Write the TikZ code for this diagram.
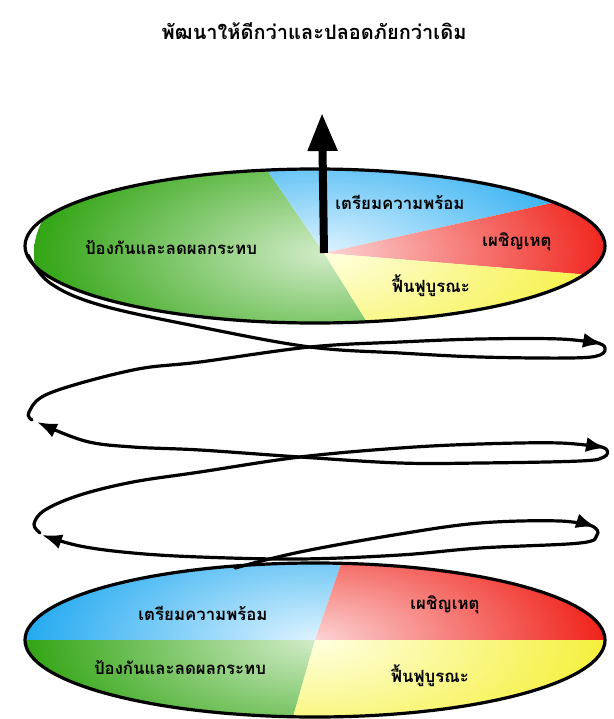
\documentclass[tikz,border=0pt]{standalone}
\usepackage{fontspec}
\usetikzlibrary{arrows.meta}
\newfontfamily\thaifont[Script=Thai]{Loma}
\definecolor{sgreen}{RGB}{50,165,20}
\definecolor{igreen}{RGB}{210,236,200}
\definecolor{sblue}{RGB}{36,170,240}
\definecolor{iblue}{RGB}{222,243,255}
\definecolor{sred}{RGB}{240,34,26}
\definecolor{ired}{RGB}{252,212,212}
\definecolor{syellow}{RGB}{245,240,60}
\definecolor{iyellow}{RGB}{255,255,225}
% one coloured piece of a disc, shaded out from the point (c)
\newcommand{\discpiece}[3]{%
  \begin{scope}
    \clip #1;
    \shade[inner color=#2, outer color=#3] (c) ellipse [x radius=290, y radius=135];
  \end{scope}}

\begin{document}
\begin{tikzpicture}[x=1pt, y=-1pt,
    rim/.style={draw=black, line width=3.2pt},
    helix/.style={line width=3.2pt, line cap=round},
    hhead/.style={-{Latex[length=20pt, width=15pt]}},
    lbl/.style={font=\thaifont\bfseries\fontsize{16.8}{19}\selectfont, inner sep=0pt}]
    \useasboundingbox (0,0) rectangle (613,719);

    % Title
    \node[font=\thaifont\bfseries\fontsize{20}{24}\selectfont] (title) at (314,31)
        {พัฒนาให้ดีกว่าและปลอดภัยกว่าเดิม};

    % Lower disc
    \coordinate (c) at (315,640);
    \begin{scope}
        \clip (315,640) ellipse [x radius=290, y radius=77];
        \discpiece{(c) -- (-100,640) -- (-100,421) -- (390,421) -- cycle}{iblue}{sblue}
        \discpiece{(c) -- (390,421) -- (800,421) -- (800,640) -- cycle}{ired}{sred}
        \discpiece{(c) -- (-100,640) -- (-100,871) -- (249,871) -- cycle}{igreen}{sgreen}
        \discpiece{(c) -- (249,871) -- (800,871) -- (800,640) -- cycle}{iyellow}{syellow}
    \end{scope}
    \draw[rim] (315,640) ellipse [x radius=290, y radius=77];
    \node[lbl] (bprep) at (203,613) {เตรียมความพร้อม};
    \node[lbl] (bresp) at (445,605) {เผชิญเหตุ};
    \node[lbl] (bprev) at (180,668) {ป้องกันและลดผลกระทบ};
    \node[lbl] (brec)  at (430,676) {ฟื้นฟูบูรณะ};

    % Spiral, from the lower disc up to the upper one
    \draw[helix, hhead] plot[smooth, tension=0.6] coordinates
        {(235,568) (300,552) (400,534) (480,523) (560,521) (596,527)};
    \draw[helix, hhead] plot[smooth, tension=0.6] coordinates
        {(578,522) (594,527) (597,535) (580,543) (480,548) (400,555) (300,559) (200,557) (133,553) (80,546) (42,535)};
    \draw[helix, hhead] plot[smooth, tension=0.6] coordinates
        {(40,533) (34,524) (45,510) (80,495) (133,482) (200,472) (300,457) (400,448) (480,444) (560,443) (606,448)};
    \draw[helix, hhead] plot[smooth, tension=0.6] coordinates
        {(590,444) (606,449) (604,457) (580,461) (480,463) (400,463) (300,457) (200,450) (133,447) (85,441) (37,422)};
    \draw[helix, hhead] plot[smooth, tension=0.6] coordinates
        {(32,420) (29,412) (50,393) (133,370) (200,362) (310,347) (400,342) (480,339) (560,339) (603,344)};
    \draw[helix] plot[smooth, tension=0.6] coordinates
        {(588,340) (604,346) (600,355) (570,358) (480,357) (400,353) (310,347) (200,327) (100,305) (50,283) (28,255)};

    % Upper disc
    \coordinate (c) at (324,253);
    \begin{scope}
        \clip (315,246) ellipse [x radius=290, y radius=77];
        \discpiece{(c) -- (153,4) -- (-100,4) -- (-100,460) -- (453,460) -- cycle}{igreen}{sgreen}
        \discpiece{(c) -- (153,4) -- (1008,4) -- (1008,103) -- cycle}{iblue}{sblue}
        \discpiece{(c) -- (1008,103) -- (1122,319) -- cycle}{ired}{sred}
        \discpiece{(c) -- (1122,319) -- (1122,460) -- (453,460) -- cycle}{iyellow}{syellow}
    \end{scope}
    \draw[rim] (315,246) ellipse [x radius=290, y radius=77];
    \node[lbl] (tprev) at (171,248) {ป้องกันและลดผลกระทบ};
    \node[lbl] (tprep) at (400,202) {เตรียมความพร้อม};
    \node[lbl] (tresp) at (517,242) {เผชิญเหตุ};
    \node[lbl] (trec)  at (431,286) {ฟื้นฟูบูรณะ};

    % Upward arrow
    \draw[line width=8pt, -{Triangle[length=38pt, width=28pt]}] (c) -- (322,113);
\end{tikzpicture}
\end{document}
